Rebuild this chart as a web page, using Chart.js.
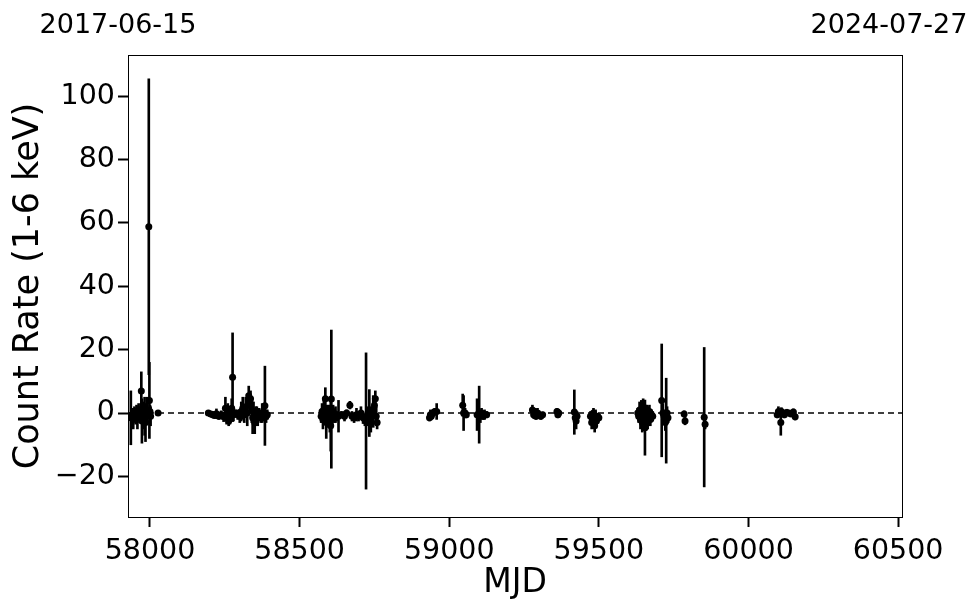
<!DOCTYPE html>
<html>
<head>
<meta charset="utf-8">
<script src="https://cdn.jsdelivr.net/npm/chart.js@4/dist/chart.umd.min.js"></script>
<style>
  html, body { margin: 0; padding: 0; background: #fff; }
  #wrap { width: 980px; height: 613px; }
</style>
</head>
<body>
<div id="wrap"><canvas id="lc"></canvas></div>
<script>
// light curve
var mjd = [
  57936, 57940, 57944, 57948, 57952, 57955, 57958, 57962, 57965, 57968, 57971, 57973,
  57976, 57979, 57982, 57985, 57988, 57991, 57996, 57998, 58000, 58002, 58027,
  58195, 58203, 58210, 58216, 58222, 58230, 58238, 58246, 58252, 58256, 58260, 58263,
  58267, 58273, 58276, 58279, 58285, 58293, 58300, 58305, 58310, 58315, 58320, 58325,
  58330, 58333, 58336, 58340, 58343, 58346, 58350, 58353, 58357, 58360, 58365, 58370,
  58375, 58380, 58384, 58388, 58392,
  58572, 58575, 58578, 58581, 58584, 58586, 58589, 58592, 58595, 58598, 58601, 58604,
  58606, 58609, 58612, 58616, 58620, 58626, 58630, 58640, 58650, 58657, 58668, 58675,
  58682, 58690, 58697, 58705, 58712, 58718, 58722, 58726, 58733, 58738, 58742, 58746,
  58750, 58753, 58756, 58759,
  58934, 58937, 58940, 58946, 58952, 58958,
  59045, 59048, 59053, 59057, 59093, 59100, 59104, 59108, 59113, 59118, 59125,
  59278, 59282, 59286, 59290, 59295, 59300, 59306, 59312,
  59360, 59363, 59366,
  59418, 59421, 59424, 59427,
  59472, 59476, 59479, 59482, 59486, 59489, 59492, 59496, 59500,
  59630, 59633, 59636, 59639, 59642, 59645, 59648, 59651, 59654, 59657, 59660, 59663,
  59666, 59669, 59672, 59676, 59680,
  59710, 59714, 59718, 59722, 59725, 59728, 59731,
  59785, 59788, 59852, 59855,
  60096, 60100, 60104, 60108, 60110, 60115, 60120, 60128, 60135, 60142, 60150, 60156
];
var rate = [
  -1.5, -0.5, -2, 0.5, -1, 0.5, -1.5, 1, -0.5, 0, 7, -2.5,
  -1, 0.5, -1, -3, 0, 1, 58.8, 4, 0.5, -1, 0,
  0, -0.3, -0.5, -0.8, -0.2, -1, -0.5, -1.2, 1.5, -1.5, 0.5, -2.5,
  -1, 1.5, 11.3, -0.5, 0, -0.5, -1, 0.5, 1.5, -0.5, 2, 0,
  5.5, 3.5, 4.5, 1, -1.5, 0.5, -3, -1, 0, -1.5, -0.5, -1,
  0, -0.5, 2.3, -1, -0.5,
  -1, 0.5, -2, 1, -0.5, 4.5, -3, 0, -1.5, 0.5, -2, -4,
  4.4, -1, 0.5, -1, -0.5, -1, -1, -0.5, -1, 0, 2.5, -1,
  -1.5, -0.5, -1, 0, -1.5, -2, -2.5, -1, 0, -2, -1, 0.5,
  2.5, 4.5, -1, -3,
  -1.5, -0.5, -1, 0, 0.5, 0.5,
  2.5, 0, 0, -0.5, -0.5, -0.5, -1, 0, -1, -0.5, -0.5,
  1, -0.5, 0.5, -1, 0, -0.5, -1, -0.5,
  0.5, -0.5, 0,
  0.3, -1.5, -2.5, -1,
  -1, -3, -2, 0, -4, -1.5, -2.5, -1, -1.5,
  0, -1, 1, -2, 0.5, -3, 1.5, -1, -4.6, -1.5, 0, -3,
  -1, 0.5, -2, -0.5, -1,
  4, 0, -1, -3, -2.4, 0, -1.5,
  -0.3, -2.5, -1.3, -3.5,
  -0.5, 0.5, 0, -3, 0.5, 0, -0.5, 0.2, 0, -0.3, 0.3, -1.2
];
var rateErr = [
  8.5, 2, 3, 1.5, 2.5, 2, 3.5, 2, 2.5, 1.5, 6, 7,
  4, 3, 6, 6, 2, 4, 46.7, 12, 2, 3, 0.8,
  0.6, 0.8, 1, 0.8, 1.5, 1, 1.2, 1.5, 3.5, 2, 2.5, 1.5,
  2.5, 3, 14, 2, 1, 1.5, 2, 3, 3.5, 2.5, 3, 4,
  3, 3, 2.5, 4, 5, 3, 3.5, 3, 2, 2.5, 2, 2,
  3, 2, 12.5, 2, 1.5,
  2, 2.5, 3, 3.5, 3, 3.5, 5, 2.5, 3, 2, 4, 8,
  21.8, 3, 2, 2, 2.5, 1.5, 5, 1, 1.5, 1, 1.2, 1.5,
  1.5, 2, 1.5, 2, 1.8, 2, 21.5, 3, 7.4, 4, 3, 5,
  2, 2.5, 3, 2,
  1, 1.5, 1, 1.2, 1, 2.5,
  3.5, 5.5, 1.5, 1, 5, 9, 2, 1.5, 1, 1.5, 1,
  1.5, 1.2, 1, 1, 1.5, 1.2, 1, 0.8,
  1, 1, 1.2,
  7, 2, 2.5, 1.5,
  1.5, 2, 1.5, 1.5, 2, 2.5, 1.5, 1, 1,
  1.5, 2, 2.5, 3, 3.5, 3, 3, 2, 8.7, 4, 2.5, 2,
  3, 2, 2, 1.5, 1.5,
  17.8, 3, 2, 2.5, 13.4, 2, 1.5,
  1, 1.2, 22, 1.5,
  1, 1.5, 1, 4, 1.2, 1, 1, 1, 0.8, 0.8, 1, 1
];

var xLimits = [57926.5, 60513];
var yLimits = [-32.8, 113];
var xTicks = [58000, 58500, 59000, 59500, 60000, 60500];
var yTicks = [-20, 0, 20, 40, 60, 80, 100];
var topLabels = ['2017-06-15', '2024-07-27'];

var points = mjd.map(function (m, i) { return { x: m, y: rate[i] }; });
var errBars = mjd.map(function (m, i) { return { x: m, y: [rate[i] - rateErr[i], rate[i] + rateErr[i]] }; });
var zeroLine = [{ x: xLimits[0], y: 0 }, { x: xLimits[1], y: 0 }];

var FONT = 'DejaVu Sans';

var framePlugin = {
  id: 'frame',
  afterDraw: function (chart) {
    var ctx = chart.ctx;
    var a = chart.chartArea;
    ctx.save();
    ctx.strokeStyle = '#000';
    ctx.lineWidth = 1;
    ctx.strokeRect(a.left + 0.5, a.top + 0.5, a.right - a.left, a.bottom - a.top);
    // date labels above the frame
    ctx.fillStyle = '#000';
    ctx.font = '27px "' + FONT + '"';
    ctx.textAlign = 'center';
    ctx.textBaseline = 'alphabetic';
    ctx.fillText(topLabels[0], a.left - 10, 33);
    ctx.fillText(topLabels[1], a.right - 13, 33);
    ctx.restore();
  }
};

function setTicks(list) {
  return function (scale) {
    scale.ticks = list.map(function (v) { return { value: v }; });
  };
}

var ctx = document.getElementById('lc').getContext('2d');
var chart = new Chart(ctx, {
  type: 'scatter',
  data: {
    datasets: [
      {
        type: 'scatter',
        data: points,
        backgroundColor: '#000',
        borderColor: '#000',
        pointRadius: 3.5,
        pointBorderWidth: 0,
        order: 0
      },
      {
        type: 'bar',
        data: errBars,
        backgroundColor: '#000',
        borderWidth: 0,
        barThickness: 2,
        grouped: false,
        order: 1
      },
      {
        type: 'line',
        data: zeroLine,
        borderColor: '#000',
        borderWidth: 1.5,
        borderDash: [6, 4],
        pointRadius: 0,
        showLine: true,
        order: 2
      }
    ]
  },
  options: {
    responsive: true,
    maintainAspectRatio: false,
    animation: false,
    layout: { padding: { top: 55, right: 78, left: 0, bottom: 0 } },
    plugins: {
      legend: { display: false },
      tooltip: { enabled: false }
    },
    scales: {
      x: {
        type: 'linear',
        min: xLimits[0],
        max: xLimits[1],
        offset: false,
        afterBuildTicks: setTicks(xTicks),
        afterFit: function (s) { s.height = 96; },
        border: { display: false },
        grid: { offset: false, drawOnChartArea: false, drawTicks: true, tickLength: 10, tickWidth: 2, tickColor: '#000' },
        ticks: {
          maxRotation: 0,
          autoSkip: false,
          padding: 7,
          color: '#000',
          font: { family: FONT, size: 28.5 },
          callback: function (v) { return String(v); }
        },
        title: {
          display: true,
          text: 'MJD',
          color: '#000',
          font: { family: FONT, size: 33 },
          padding: { top: 0, bottom: 10 }
        }
      },
      y: {
        min: yLimits[0],
        max: yLimits[1],
        afterBuildTicks: setTicks(yTicks),
        afterFit: function (s) { s.width = 128; },
        border: { display: false },
        grid: { offset: false, drawOnChartArea: false, drawTicks: true, tickLength: 10, tickWidth: 2, tickColor: '#000' },
        ticks: {
          autoSkip: false,
          padding: 3,
          color: '#000',
          font: { family: FONT, size: 28.5 },
          callback: function (v) { return String(v).replace('-', '\u2212'); }
        },
        title: {
          display: true,
          text: 'Count Rate (1-6 keV)',
          color: '#000',
          font: { family: FONT, size: 35 },
          padding: { top: 8, bottom: 0 }
        }
      }
    }
  },
  plugins: [framePlugin]
});
</script>
</body>
</html>
